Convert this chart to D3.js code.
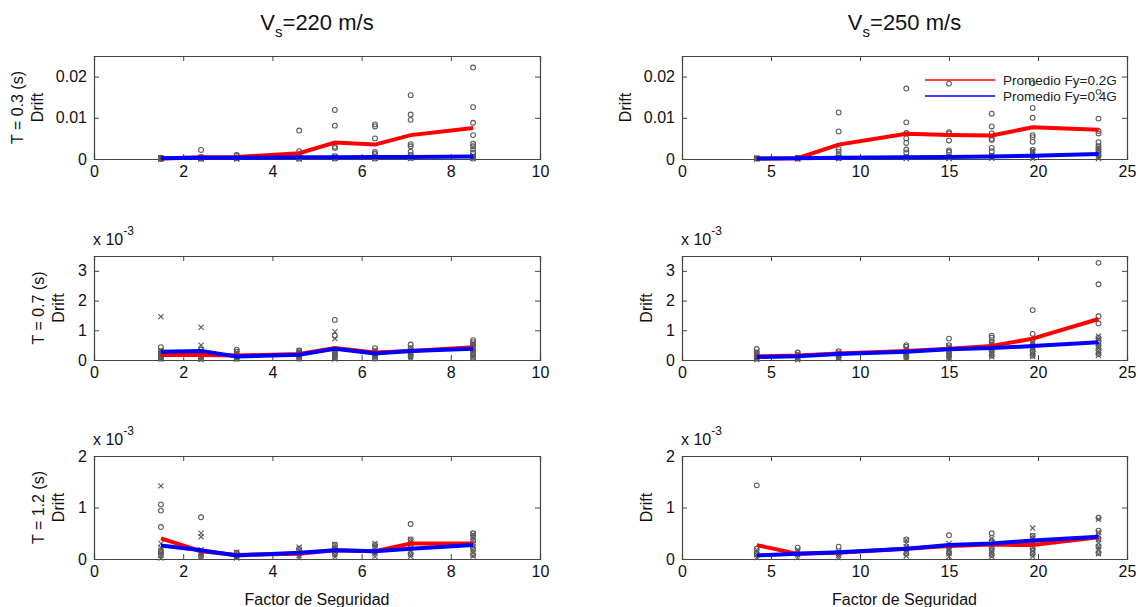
<!DOCTYPE html>
<html>
<head>
<meta charset="utf-8">
<script src="https://cdn.jsdelivr.net/npm/d3@7"></script>
<style>
  body { margin: 0; background: #fff; }
  svg { display: block; font-family: "Liberation Sans", Arial, sans-serif; }
</style>
</head>
<body>
<div id="chart"></div>
<script>
// factor de seguridad for each soil
const xs220 = [1.5, 2.4, 3.2, 4.6, 5.4, 6.3, 7.1, 8.5]
const xs250 = [4.2, 6.5, 8.8, 12.6, 15, 17.4, 19.7, 23.4]

// T = 0.3 s (real drift)
const mean02_T03_220 = [0.0001, 0.0004, 0.0005, 0.0014, 0.0040, 0.0035, 0.0058, 0.0075]
const mean04_T03_220 = [0.0002, 0.0003, 0.0003, 0.0004, 0.0004, 0.0005, 0.0005, 0.0006]
const circ_T03_220 = [
  [0.0003, 0.0001, 0.0000],
  [0.0022, 0.0005, 0.0002, 0.0001],
  [0.0010, 0.0008, 0.0004, 0.0002],
  [0.0069, 0.0019, 0.0004, 0.0001],
  [0.0119, 0.0081, 0.0030, 0.0027, 0.0007, 0.0004, 0.0001],
  [0.0084, 0.0079, 0.0050, 0.0017, 0.0012, 0.0004, 0.0001],
  [0.0155, 0.0108, 0.0095, 0.0036, 0.0031, 0.0018, 0.0010, 0.0003],
  [0.0222, 0.0126, 0.0088, 0.0058, 0.0037, 0.0031, 0.0023, 0.0015, 0.0005, 0.0001]
]
const cross_T03_220 = [
  [0.0003, 0.0002, 0.0001, 0.0000], [0.0004, 0.0002, 0.0001, 0.0000],
  [0.0004, 0.0003, 0.0001, 0.0000], [0.0005, 0.0003, 0.0001, 0.0000],
  [0.0006, 0.0004, 0.0002, 0.0001], [0.0006, 0.0004, 0.0002, 0.0001],
  [0.0007, 0.0005, 0.0002, 0.0001], [0.0009, 0.0006, 0.0003, 0.0001]
]

const mean02_T03_250 = [0.0001, 0.0002, 0.0035, 0.0061, 0.0058, 0.0057, 0.0077, 0.0071]
const mean04_T03_250 = [0.0001, 0.0002, 0.0003, 0.0004, 0.0005, 0.0006, 0.0008, 0.0012]
const circ_T03_250 = [
  [0.0002, 0.0001],
  [0.0003, 0.0001],
  [0.0113, 0.0067, 0.0024, 0.0018, 0.0010, 0.0003],
  [0.0171, 0.0089, 0.0063, 0.0050, 0.0039, 0.0023, 0.0016, 0.0005],
  [0.0183, 0.0065, 0.0062, 0.0045, 0.0021, 0.0017, 0.0005],
  [0.0110, 0.0079, 0.0062, 0.0049, 0.0046, 0.0027, 0.0019, 0.0006],
  [0.0184, 0.0124, 0.0100, 0.0058, 0.0053, 0.0042, 0.0022, 0.0008],
  [0.0163, 0.0098, 0.0068, 0.0062, 0.0041, 0.0031, 0.0025, 0.0019, 0.0010]
]
const cross_T03_250 = [
  [0.0002, 0.0001, 0.0000], [0.0003, 0.0001, 0.0000], [0.0004, 0.0002, 0.0001], [0.0005, 0.0003, 0.0001],
  [0.0006, 0.0003, 0.0001], [0.0008, 0.0004, 0.0002], [0.0021, 0.0017, 0.0009, 0.0004, 0.0001],
  [0.0029, 0.0022, 0.0013, 0.0008, 0.0004, 0.0001]
]

// T = 0.7 s (x 10^-3)
const mean02_T07_220 = [0.17, 0.17, 0.15, 0.20, 0.40, 0.25, 0.30, 0.43]
const mean04_T07_220 = [0.28, 0.30, 0.12, 0.18, 0.38, 0.22, 0.30, 0.38]
const circ_T07_220 = [
  [0.43, 0.30, 0.20, 0.10, 0.05],
  [0.35, 0.25, 0.15, 0.05],
  [0.35, 0.28, 0.10, 0.05],
  [0.32, 0.25, 0.15, 0.05],
  [1.35, 0.82, 0.30, 0.20, 0.08],
  [0.40, 0.30, 0.15, 0.05],
  [0.52, 0.40, 0.25, 0.12],
  [0.67, 0.60, 0.50, 0.35, 0.20, 0.08]
]
const cross_T07_220 = [
  [1.46, 0.33, 0.25, 0.18, 0.12, 0.07, 0.03], [1.10, 0.50, 0.32, 0.24, 0.17, 0.11, 0.06, 0.02],
  [0.27, 0.20, 0.14, 0.08, 0.03], [0.30, 0.24, 0.17, 0.10, 0.04],
  [0.95, 0.72, 0.36, 0.28, 0.21, 0.14, 0.08, 0.03], [0.33, 0.25, 0.18, 0.11, 0.05],
  [0.42, 0.34, 0.26, 0.19, 0.12, 0.06], [0.58, 0.52, 0.44, 0.37, 0.30, 0.23, 0.15, 0.08]
]

const mean02_T07_250 = [0.12, 0.15, 0.22, 0.30, 0.38, 0.47, 0.72, 1.38]
const mean04_T07_250 = [0.10, 0.13, 0.20, 0.28, 0.36, 0.40, 0.47, 0.60]
const circ_T07_250 = [
  [0.37, 0.25, 0.12, 0.05],
  [0.25, 0.15, 0.05],
  [0.30, 0.20, 0.10],
  [0.50, 0.45, 0.30, 0.20, 0.10],
  [0.72, 0.50, 0.40, 0.25, 0.12],
  [0.82, 0.75, 0.62, 0.50, 0.30, 0.15],
  [1.68, 0.88, 0.70, 0.50, 0.30, 0.15],
  [3.27, 2.55, 1.47, 1.23, 0.75, 0.65, 0.50, 0.35, 0.20]
]
const cross_T07_250 = [
  [0.28, 0.20, 0.13, 0.07, 0.02], [0.22, 0.16, 0.10, 0.05, 0.02], [0.28, 0.22, 0.15, 0.09, 0.04],
  [0.40, 0.33, 0.25, 0.18, 0.11, 0.05], [0.47, 0.40, 0.32, 0.24, 0.16, 0.09, 0.04],
  [0.58, 0.50, 0.42, 0.34, 0.26, 0.18, 0.11], [0.60, 0.53, 0.45, 0.37, 0.29, 0.21, 0.13],
  [0.80, 0.70, 0.55, 0.47, 0.40, 0.32, 0.24, 0.15]
]

// T = 1.2 s (x 10^-3)
const mean02_T12_220 = [0.40, 0.15, 0.08, 0.10, 0.17, 0.15, 0.30, 0.30]
const mean04_T12_220 = [0.26, 0.17, 0.07, 0.12, 0.17, 0.15, 0.20, 0.27]
const circ_T12_220 = [
  [1.06, 0.94, 0.62, 0.15, 0.08],
  [0.81, 0.15, 0.05],
  [0.12, 0.05],
  [0.20, 0.10],
  [0.28, 0.20, 0.10],
  [0.28, 0.15],
  [0.68, 0.38, 0.25, 0.10],
  [0.50, 0.45, 0.35, 0.20, 0.08]
]
const cross_T12_220 = [
  [1.42, 0.30, 0.22, 0.17, 0.12, 0.07, 0.02], [0.50, 0.43, 0.18, 0.13, 0.08, 0.04],
  [0.13, 0.09, 0.05, 0.02], [0.23, 0.17, 0.12, 0.07, 0.03],
  [0.28, 0.23, 0.18, 0.13, 0.08, 0.04], [0.30, 0.25, 0.20, 0.15, 0.10, 0.05],
  [0.38, 0.33, 0.27, 0.21, 0.15, 0.09, 0.05], [0.48, 0.42, 0.36, 0.30, 0.24, 0.18, 0.12, 0.06]
]

const mean02_T12_250 = [0.27, 0.10, 0.12, 0.20, 0.25, 0.28, 0.27, 0.42]
const mean04_T12_250 = [0.07, 0.10, 0.13, 0.20, 0.27, 0.30, 0.36, 0.43]
const circ_T12_250 = [
  [1.43, 0.20, 0.10],
  [0.22, 0.10],
  [0.24, 0.10],
  [0.38, 0.20, 0.10],
  [0.46, 0.25, 0.12],
  [0.50, 0.35, 0.20, 0.08],
  [0.45, 0.35, 0.20, 0.10],
  [0.80, 0.55, 0.40, 0.25, 0.12]
]
const cross_T12_250 = [
  [0.18, 0.13, 0.08, 0.03], [0.18, 0.13, 0.08, 0.03], [0.15, 0.11, 0.07, 0.03],
  [0.37, 0.30, 0.24, 0.18, 0.12, 0.06], [0.30, 0.25, 0.20, 0.15, 0.10, 0.05],
  [0.40, 0.34, 0.28, 0.22, 0.16, 0.10, 0.05], [0.60, 0.45, 0.40, 0.34, 0.28, 0.22, 0.16, 0.10, 0.05],
  [0.77, 0.52, 0.45, 0.38, 0.31, 0.24, 0.17, 0.10]
]

const titles = ["=220 m/s", "=250 m/s"]
const rowLabels = ["T = 0.3 (s)", "T = 0.7 (s)", "T = 1.2 (s)"]
const legendLabels = ["Promedio Fy=0.2G", "Promedio Fy=0.4G"]

const width = 1138, height = 607
const cols = [{x0: 94, x1: 540}, {x0: 682, x1: 1127}]
const rows = [{y0: 56, y1: 159}, {y0: 256, y1: 360}, {y0: 456, y1: 559}]

const panels = [
  {r: 0, c: 0, xs: xs220, m02: mean02_T03_220, m04: mean04_T03_220, circ: circ_T03_220, cross: cross_T03_220},
  {r: 0, c: 1, xs: xs250, m02: mean02_T03_250, m04: mean04_T03_250, circ: circ_T03_250, cross: cross_T03_250, legend: true},
  {r: 1, c: 0, xs: xs220, m02: mean02_T07_220, m04: mean04_T07_220, circ: circ_T07_220, cross: cross_T07_220},
  {r: 1, c: 1, xs: xs250, m02: mean02_T07_250, m04: mean04_T07_250, circ: circ_T07_250, cross: cross_T07_250},
  {r: 2, c: 0, xs: xs220, m02: mean02_T12_220, m04: mean04_T12_220, circ: circ_T12_220, cross: cross_T12_220},
  {r: 2, c: 1, xs: xs250, m02: mean02_T12_250, m04: mean04_T12_250, circ: circ_T12_250, cross: cross_T12_250},
]
const xDomains = [[0, 10], [0, 25]]
const xTicks = [[0, 2, 4, 6, 8, 10], [0, 5, 10, 15, 20, 25]]
const yDomains = [[0, 0.025], [0, 3.5], [0, 2]]
const yTicks = [[0, 0.01, 0.02], [0, 1, 2, 3], [0, 1, 2]]

const axisColor = "#444"
const markColor = "#5a5a5a"

const svg = d3.select("#chart").append("svg")
  .attr("width", width)
  .attr("height", height)

function styleAxis(g) {
  g.selectAll("path, line").attr("stroke", axisColor)
  g.selectAll("text").attr("fill", "#111").style("font-size", "16px")
}

for (const p of panels) {
  const col = cols[p.c], row = rows[p.r]
  const x = d3.scaleLinear().domain(xDomains[p.c]).range([col.x0, col.x1])
  const y = d3.scaleLinear().domain(yDomains[p.r]).range([row.y1, row.y0])
  const yFmt = p.r === 0 ? (d => d === 0 ? "0" : d3.format(".2f")(d)) : d3.format("d")

  const g = svg.append("g")

  // box with mirrored inward ticks
  g.append("g")
    .attr("transform", `translate(0,${row.y1})`)
    .call(d3.axisBottom(x).tickValues(xTicks[p.c]).tickSize(-5).tickPadding(7).tickFormat(d3.format("d")))
    .call(styleAxis)
  g.append("g")
    .attr("transform", `translate(0,${row.y0})`)
    .call(d3.axisTop(x).tickValues(xTicks[p.c]).tickSize(-5).tickFormat(""))
    .call(styleAxis)
  g.append("g")
    .attr("transform", `translate(${col.x0},0)`)
    .call(d3.axisLeft(y).tickValues(yTicks[p.r]).tickSize(-5).tickPadding(7).tickFormat(yFmt))
    .call(styleAxis)
  g.append("g")
    .attr("transform", `translate(${col.x1},0)`)
    .call(d3.axisRight(y).tickValues(yTicks[p.r]).tickSize(-5).tickFormat(""))
    .call(styleAxis)
  g.selectAll(".domain").attr("stroke-width", 1.2)

  // scatter: circles and crosses
  const circPts = p.circ.flatMap((vals, i) => vals.map(v => [p.xs[i], v]))
  const crossPts = p.cross.flatMap((vals, i) => vals.map(v => [p.xs[i], v]))
  g.append("g").selectAll("path")
    .data(crossPts)
    .join("path")
      .attr("transform", d => `translate(${x(d[0])},${y(d[1])})`)
      .attr("d", "M-2.6,-2.6L2.6,2.6M-2.6,2.6L2.6,-2.6")
      .attr("stroke", markColor)
      .attr("stroke-width", 1.1)
  g.append("g").selectAll("circle")
    .data(circPts)
    .join("circle")
      .attr("cx", d => x(d[0]))
      .attr("cy", d => y(d[1]))
      .attr("r", 2.4)
      .attr("fill", "none")
      .attr("stroke", markColor)
      .attr("stroke-width", 1.1)

  // mean lines
  const line = d3.line().x(d => x(d[0])).y(d => y(d[1]))
  g.append("path")
    .datum(p.xs.map((v, i) => [v, p.m02[i]]))
    .attr("d", line)
    .attr("fill", "none")
    .attr("stroke", "#ff0000")
    .attr("stroke-width", 4)
  g.append("path")
    .datum(p.xs.map((v, i) => [v, p.m04[i]]))
    .attr("d", line)
    .attr("fill", "none")
    .attr("stroke", "#0000ff")
    .attr("stroke-width", 4)

  // exponent label
  if (p.r > 0) {
    const t = g.append("text")
      .attr("x", col.x0 - 1)
      .attr("y", row.y0 - 11)
      .attr("fill", "#111")
      .style("font-size", "16px")
    t.append("tspan").text("x 10")
    t.append("tspan").attr("dy", -10).style("font-size", "12px").text("-3")
  }

  // y labels
  const cy = (row.y0 + row.y1) / 2
  const driftX = p.r === 0 ? col.x0 - 51 : col.x0 - 30
  if (p.c === 0) {
    g.append("text")
      .attr("transform", `translate(${driftX - 20},${cy}) rotate(-90)`)
      .attr("text-anchor", "middle")
      .attr("fill", "#111")
      .style("font-size", "16px")
      .text(rowLabels[p.r])
  }
  g.append("text")
    .attr("transform", `translate(${driftX},${cy}) rotate(-90)`)
    .attr("text-anchor", "middle")
    .attr("fill", "#111")
    .style("font-size", "16px")
    .text("Drift")

  if (p.r === 2) {
    g.append("text")
      .attr("x", (col.x0 + col.x1) / 2)
      .attr("y", 605)
      .attr("text-anchor", "middle")
      .attr("fill", "#111")
      .style("font-size", "16px")
      .text("Factor de Seguridad")
  }

  if (p.legend) {
    const lg = g.append("g")
    const colors = ["#ff0000", "#0000ff"]
    legendLabels.forEach((lab, i) => {
      const ly = 80 + i * 16
      lg.append("line")
        .attr("x1", 925).attr("x2", 995)
        .attr("y1", ly).attr("y2", ly)
        .attr("stroke", colors[i])
        .attr("stroke-width", 1.5)
      lg.append("text")
        .attr("x", 1003)
        .attr("y", ly + 5)
        .attr("fill", "#222")
        .style("font-size", "13.5px")
        .text(lab)
    })
  }
}

// column titles
titles.forEach((t, c) => {
  const txt = svg.append("text")
    .attr("x", (cols[c].x0 + cols[c].x1) / 2)
    .attr("y", 30)
    .attr("text-anchor", "middle")
    .attr("fill", "#111")
    .style("font-size", "22px")
  txt.append("tspan").text("V")
  txt.append("tspan").attr("dy", 7).style("font-size", "15px").text("s")
  txt.append("tspan").attr("dy", -7).text(t)
})
</script>
</body>
</html>
